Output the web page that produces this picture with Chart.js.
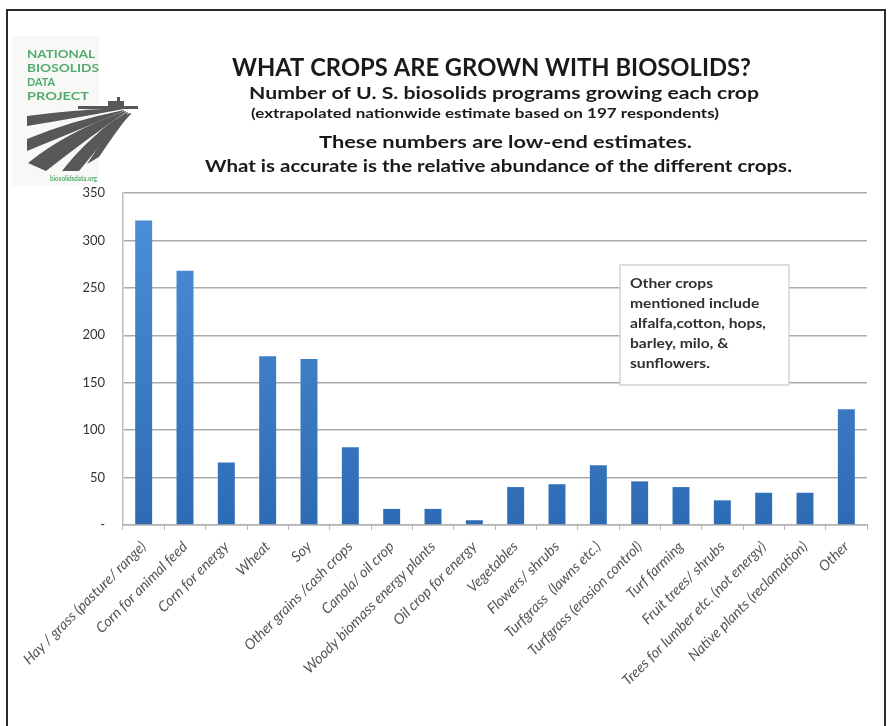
<!DOCTYPE html>
<html>
<head>
<meta charset="utf-8">
<script src="https://cdn.jsdelivr.net/npm/chart.js@4.4.1/dist/chart.umd.min.js"></script>
<style>
  html, body { margin: 0; padding: 0; background: #fff; }
</style>
</head>
<body>
<canvas id="chart" width="894" height="726"></canvas>
<script>
// values
const categories = [
  "Hay / grass (pasture/ range)",
  "Corn for animal feed",
  "Corn for energy",
  "Wheat",
  "Soy",
  "Other grains /cash crops",
  "Canola/ oil crop",
  "Woody biomass energy plants",
  "Oil crop for energy",
  "Vegetables",
  "Flowers/ shrubs",
  "Turfgrass  (lawns etc.)",
  "Turfgrass (erosion control)",
  "Turf farming",
  "Fruit trees/ shrubs",
  "Trees for lumber etc. (not energy)",
  "Native plants (reclamation)",
  "Other",
];
const programCounts = [321, 268, 66, 178, 175, 82, 17, 17, 5, 40, 43, 63, 46, 40, 26, 34, 34, 122];
const yMax = 350;
const yStep = 50;

const titleLines = [
  "WHAT CROPS ARE GROWN WITH BIOSOLIDS?",
  "Number of U. S. biosolids programs growing each crop",
  "(extrapolated nationwide estimate based on 197 respondents)",
  "These numbers are low-end estimates.",
  "What is accurate is the relative abundance of the different crops.",
];
const noteLines = [
  "Other crops",
  "mentioned include",
  "alfalfa,cotton, hops,",
  "barley, milo, &",
  "sunflowers.",
];
const logoLines = ["NATIONAL", "BIOSOLIDS", "DATA", "PROJECT"];
const logoUrl = "biosolidsdata.org";

// draw text at a given size, squeezed/stretched to a target width
function fitText(ctx, text, left, baseline, width, font, color) {
  ctx.save();
  ctx.font = font;
  ctx.fillStyle = color;
  ctx.textAlign = "left";
  ctx.textBaseline = "alphabetic";
  const w = ctx.measureText(text).width;
  ctx.translate(left, baseline);
  ctx.scale(width / w, 1);
  ctx.fillText(text, 0, 0);
  ctx.restore();
}

function drawLogo(ctx) {
  ctx.save();
  ctx.fillStyle = "#f8f8f7";
  ctx.fillRect(12, 36, 87, 150);

  const green = "#52ab6c";
  const widths = [68, 72, 28, 62];
  const bases = [58, 72, 86, 100];
  logoLines.forEach((t, i) => fitText(ctx, t, 27, bases[i], widths[i], "bold 12px Lato", green));
  fitText(ctx, logoUrl, 50, 181, 47, "bold 8px Lato", green);

  // field rows running to the horizon: [left bottom, left ctrl, left apex, right apex, right ctrl, right bottom]
  ctx.fillStyle = "#585858";
  const rows = [
    [[27, 116], [70, 110], [124, 108], [124, 109], [70, 119], [27, 126]],
    [[27, 139], [70, 121], [124, 110], [124, 111], [76, 131], [27, 151]],
    [[28, 163], [66, 132], [125, 111], [126, 112], [88, 138], [46, 171]],
    [[62, 171], [90, 135], [127, 112], [128, 113], [106, 138], [79, 171]],
    [[87, 164], [107, 132], [129, 113], [130, 114], [117, 130], [99, 157]],
    [[98, 133], [114, 118], [131, 113], [131, 114], [121, 125], [99, 143]],
  ];
  rows.forEach(([lb, lc, la, ra, rc, rb]) => {
    ctx.beginPath();
    ctx.moveTo(lb[0], lb[1]);
    ctx.quadraticCurveTo(lc[0], lc[1], la[0], la[1]);
    ctx.lineTo(ra[0], ra[1]);
    ctx.quadraticCurveTo(rc[0], rc[1], rb[0], rb[1]);
    ctx.closePath();
    ctx.fill();
  });
  // horizon band and the little machine on it
  ctx.fillRect(78, 106, 60, 3);
  ctx.fillRect(108, 101, 16, 6);
  ctx.fillRect(117, 97, 3, 5);
  ctx.restore();
}

const decorPlugin = {
  id: "decor",
  beforeDraw(chart) {
    const ctx = chart.ctx;
    ctx.save();
    ctx.fillStyle = "#fff";
    ctx.fillRect(0, 0, chart.width, chart.height);
    ctx.restore();
  },
  afterDraw(chart) {
    const ctx = chart.ctx;
    drawLogo(ctx);

    const dark = "#1a1a1a";
    fitText(ctx, titleLines[0], 232, 76, 519, "bold 25px Lato", dark);
    fitText(ctx, titleLines[1], 249, 99, 510, "bold 17px Lato", dark);
    fitText(ctx, titleLines[2], 251, 118, 468, "bold 14px Lato", dark);
    fitText(ctx, titleLines[3], 319, 148, 373, "bold 17px Lato", dark);
    fitText(ctx, titleLines[4], 205, 172, 587, "bold 17px Lato", dark);

    // note box
    ctx.save();
    ctx.fillStyle = "#fff";
    ctx.fillRect(620, 265, 169, 120);
    ctx.strokeStyle = "#d4d4d4";
    ctx.lineWidth = 1.5;
    ctx.strokeRect(620, 265, 169, 120);
    ctx.font = "bold 13px Lato";
    const sx = 136 / ctx.measureText(noteLines[2]).width;
    noteLines.forEach((t, i) => {
      const w = ctx.measureText(t).width * sx;
      fitText(ctx, t, 630, 288 + i * 20, w, "bold 13px Lato", "#303030");
    });
    ctx.restore();

    // outer frame
    ctx.save();
    ctx.strokeStyle = "#2b2b2b";
    ctx.lineWidth = 2;
    ctx.strokeRect(7, 10, 878, 800);
    ctx.restore();
  },
};

const ctx = document.getElementById("chart").getContext("2d");

new Chart(ctx, {
  type: "bar",
  data: {
    labels: categories,
    datasets: [
      {
        label: "Programs",
        data: programCounts,
        backgroundColor: (c) => {
          const area = c.chart.chartArea;
          if (!area) return "#3b7cc7";
          const g = c.chart.ctx.createLinearGradient(0, area.top, 0, area.bottom);
          g.addColorStop(0, "#4f90da");
          g.addColorStop(1, "#2d6cb4");
          return g;
        },
        barPercentage: 0.41,
        categoryPercentage: 1,
      },
    ],
  },
  options: {
    responsive: false,
    animation: false,
    layout: { padding: { top: 193, right: 27, left: 0, bottom: 0 } },
    plugins: {
      legend: { display: false },
      tooltip: { enabled: false },
    },
    scales: {
      x: {
        grid: {
          offset: true,
          drawOnChartArea: false,
          drawTicks: true,
          tickLength: 5,
          color: "#b4b4b4",
        },
        border: { color: "#b4b4b4", width: 1.5 },
        ticks: {
          autoSkip: false,
          minRotation: 45,
          maxRotation: 45,
          padding: 8,
          color: "#555",
          font: { family: "Lato", style: "italic", size: 14.5 },
        },
        afterFit(scale) {
          scale.height = 201;
          scale.paddingLeft = 0;
          scale.paddingRight = 0;
        },
      },
      y: {
        min: 0,
        max: yMax,
        grid: { color: "#ababab", lineWidth: 1.5, drawTicks: false },
        border: { color: "#bdbdbd", width: 1.5 },
        ticks: {
          stepSize: yStep,
          padding: 18,
          color: "#333",
          font: { family: "Lato", size: 13 },
          callback: (v) => (v === 0 ? "-" : v),
        },
        afterFit(scale) {
          scale.width = 123;
        },
      },
    },
  },
  plugins: [decorPlugin],
});
</script>
</body>
</html>
